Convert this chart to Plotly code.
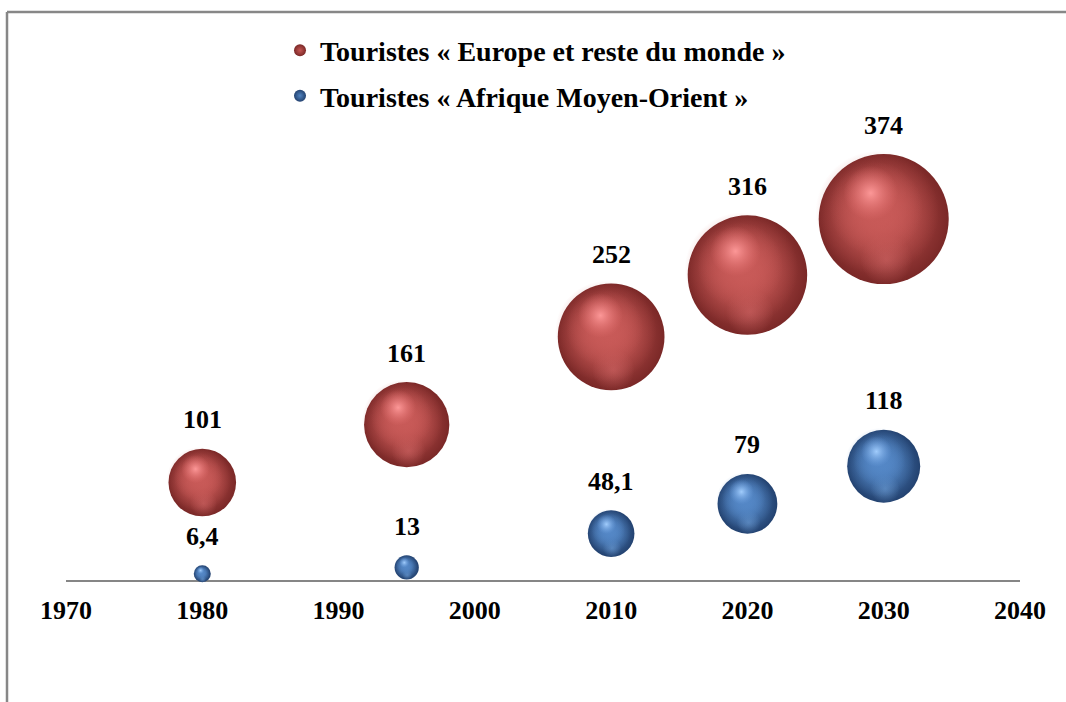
import numpy as np
import plotly.graph_objects as go

# Data
years = [1980, 1995, 2010, 2020, 2030]
europe = [101, 161, 252, 316, 374]
afrique = [6.4, 13, 48.1, 79, 118]
series_names = ["Touristes « Europe et reste du monde »",
                "Touristes « Afrique Moyen-Orient »"]
tick_years = [1970, 1980, 1990, 2000, 2010, 2020, 2030, 2040]

# Layout geometry (pixels)
W, H = 1066, 702
M_L, M_R, M_T, M_B = 66, 46, 30, 122
X_RANGE = [1970, 2040]
Y_RANGE = [0, 570]
px_per_x = (W - M_L - M_R) / (X_RANGE[1] - X_RANGE[0])
px_per_y = (H - M_T - M_B) / (Y_RANGE[1] - Y_RANGE[0])

# Bubble area proportional to value; largest bubble 130 px across
MAX_D = 130
all_vals = europe + afrique
sizeref = max(all_vals) / 2 / MAX_D ** 2


def diam(v):
    return np.sqrt(np.asarray(v, dtype=float) / 2 / sizeref)


FONT = "Liberation Serif"

# For radial gradients: marker colour = rim, gradient colour = centre
palettes = {
    0: dict(center="#c65653", rim="#7a2827",
            body="rgba(200,90,88,1)", body0="rgba(200,90,88,0)",
            spot="rgba(255,155,155,0.95)", spot0="rgba(232,115,115,0)",
            refl="rgba(230,120,120,0.45)", refl0="rgba(230,120,120,0)"),
    1: dict(center="#5083c0", rim="#234270",
            body="rgba(84,135,198,1)", body0="rgba(84,135,198,0)",
            spot="rgba(165,208,255,0.95)", spot0="rgba(115,165,228,0)",
            refl="rgba(135,185,240,0.45)", refl0="rgba(135,185,240,0)"),
}

fig = go.Figure()

for i, vals in enumerate([europe, afrique]):
    p = palettes[i]
    x = np.asarray(years, dtype=float)
    y = np.asarray(vals, dtype=float)
    d = diam(vals)

    def shifted(fx, fy):
        # offset in fractions of the diameter, converted to data units
        return x + fx * d / px_per_x, y + fy * d / px_per_y

    def layer(xs, ys, scale, rim, center):
        fig.add_trace(go.Scatter(
            x=xs, y=ys, mode="markers", showlegend=False,
            legendgroup=f"g{i}", cliponaxis=False, hoverinfo="skip",
            marker=dict(size=d * scale, sizemode="diameter", color=rim,
                        opacity=1, line=dict(width=0),
                        gradient=dict(type="radial", color=center)),
        ))

    # sphere body, darker towards the rim
    fig.add_trace(go.Scatter(
        x=x, y=y, mode="markers", name=series_names[i],
        legendgroup=f"g{i}", cliponaxis=False, hoverinfo="skip",
        marker=dict(size=d, sizemode="diameter", color=p["rim"], opacity=1,
                    line=dict(width=0),
                    gradient=dict(type="radial", color=p["center"])),
    ))
    # soft lower reflection
    layer(*shifted(0.02, -0.31), 0.40, p["refl0"], p["refl"])
    # main lit area, shifted up-left
    layer(*shifted(-0.05, 0.05), 0.95, p["body0"], p["body"])
    layer(*shifted(-0.06, 0.08), 0.72, p["body0"], p["body"])
    # specular highlight
    layer(*shifted(-0.10, 0.20), 0.42, p["spot0"], p["spot"])

# Value labels above each bubble
annotations = []
for vals in [europe, afrique]:
    for xv, yv, dv in zip(years, vals, diam(vals)):
        txt = (f"{yv:g}").replace(".", ",")
        annotations.append(dict(
            x=xv, y=yv, xref="x", yref="y", text=txt, showarrow=False,
            yshift=dv / 2 + 29, yanchor="middle",
            font=dict(family=FONT, size=26, color="black", weight=700),
        ))

# Outer frame (top and left edges)
shapes = [
    dict(type="line", xref="paper", yref="paper",
         x0=(7 - M_L) / (W - M_L - M_R), x1=(W + 5 - M_L) / (W - M_L - M_R),
         y0=(H - M_B - 12) / (H - M_T - M_B), y1=(H - M_B - 12) / (H - M_T - M_B),
         line=dict(color="#878787", width=2.5)),
    dict(type="line", xref="paper", yref="paper",
         x0=(7 - M_L) / (W - M_L - M_R), x1=(7 - M_L) / (W - M_L - M_R),
         y0=(H - M_B - 12) / (H - M_T - M_B), y1=(-M_B - 5) / (H - M_T - M_B),
         line=dict(color="#878787", width=2.5)),
]

fig.update_layout(
    width=W, height=H,
    margin=dict(l=M_L, r=M_R, t=M_T, b=M_B),
    paper_bgcolor="white", plot_bgcolor="white",
    showlegend=True,
    legend=dict(
        x=(280 - M_L) / (W - M_L - M_R), xanchor="left",
        y=1.008, yanchor="top",
        font=dict(family=FONT, size=28, color="black", weight=700),
        bgcolor="rgba(0,0,0,0)", traceorder="grouped", tracegroupgap=6,
        itemsizing="constant",
    ),
    xaxis=dict(range=X_RANGE, tickvals=tick_years,
               ticktext=[str(t) for t in tick_years],
               showgrid=False, zeroline=False, showline=True,
               linecolor="#868686", linewidth=2, ticks="",
               ticklabelstandoff=6, layer="below traces",
               tickfont=dict(family=FONT, size=26, color="black", weight=700),
               fixedrange=True),
    yaxis=dict(range=Y_RANGE, visible=False, fixedrange=True),
    annotations=annotations,
    shapes=shapes,
)

fig.write_html("out.html")
